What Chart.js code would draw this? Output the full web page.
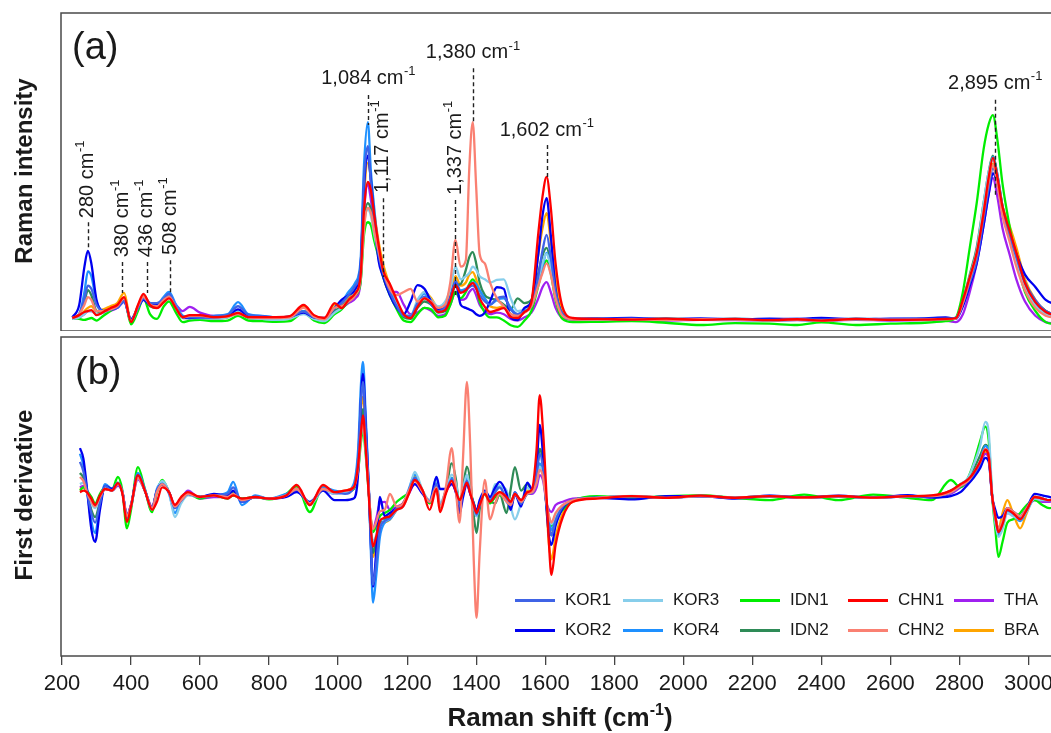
<!DOCTYPE html>
<html>
<head>
<meta charset="utf-8">
<script src="https://cdn.jsdelivr.net/npm/chart.js@4.4.1/dist/chart.umd.min.js"></script>
<style>
  html, body { margin: 0; padding: 0; background: #fff; }
  #wrap { position: relative; width: 1051px; height: 733px; overflow: hidden; font-family: "Liberation Sans", Arial, Helvetica, sans-serif; color: #1a1a1a; }
  canvas { position: absolute; left: 0; }
  #chartA { top: 0; }
  #chartB { top: 336px; }
  .ylab { position: absolute; left: 24px; font-weight: bold; font-size: 24px; line-height: 1; white-space: nowrap; transform: translate(-50%, -50%) rotate(-90deg); }
  #ylabA { top: 171px; }
  #ylabB { top: 495px; }
  .tag { position: absolute; font-size: 38px; line-height: 1; }
  #tagA { left: 72px; top: 27px; }
  #tagB { left: 75px; top: 352px; }
  #xlab { position: absolute; left: 0; width: 1120px; top: 704px; text-align: center; font-weight: bold; font-size: 26px; line-height: 1; white-space: nowrap; }
  #xlab sup { font-size: 16px; line-height: 0; vertical-align: 11px; }
  .lg-line { position: absolute; height: 3px; width: 40px; }
  .lg-text { position: absolute; font-size: 17px; line-height: 20px; white-space: nowrap; }
</style>
</head>
<body>
<div id="wrap">
  <canvas id="chartA" width="1132" height="331"></canvas>
  <canvas id="chartB" width="1132" height="397"></canvas>
  <div class="ylab" id="ylabA">Raman intensity</div>
  <div class="ylab" id="ylabB">First derivative</div>
  <div class="tag" id="tagA">(a)</div>
  <div class="tag" id="tagB">(b)</div>
  <div id="xlab">Raman shift (cm<sup>-1</sup>)</div>
  <div id="legend"></div>
</div>
<script>
// ---- data ----
const seriesNames = ['KOR1', 'KOR2', 'KOR3', 'KOR4', 'IDN1', 'IDN2', 'CHN1', 'CHN2', 'THA', 'BRA'];
const seriesColors = ['#3f63e6', '#0000f0', '#87ceeb', '#1e90ff', '#00ee00', '#2e8b57', '#ff0000', '#fa8072', '#a020f0', '#ffa500'];
const xTicks = [200, 400, 600, 800, 1000, 1200, 1400, 1600, 1800, 2000, 2200, 2400, 2600, 2800, 3000];

// (a) Raman spectra
const shiftA = [
  230, 250, 265, 275, 285, 300, 320, 340, 360, 380,
  400, 420, 436, 455, 475, 495, 510, 530, 550, 570,
  600, 640, 680, 710, 740, 780, 820, 860, 900, 930,
  960, 990, 1010, 1030, 1050, 1065, 1075, 1086, 1095, 1105,
  1117, 1130, 1150, 1170, 1190, 1210, 1230, 1250, 1270, 1290,
  1310, 1325, 1340, 1355, 1370, 1380, 1390, 1400, 1410, 1425,
  1440, 1460, 1480, 1500, 1520, 1540, 1560, 1580, 1592, 1604,
  1616, 1630, 1650, 1680, 1750, 1850, 1950, 2050, 2150, 2250,
  2330, 2400, 2500, 2600, 2700, 2760, 2790, 2810, 2830, 2850,
  2870, 2885, 2897, 2910, 2925, 2945, 2965, 2990, 3020, 3050,
  3080
];
const KOR1_A = [
  3.8, 5.0, 10.0, 14.0, 13.0, 8.0, 6.0, 6.5, 7.0, 9.0,
  3.0, 7.0, 10.0, 8.5, 8.5, 10.0, 11.5, 7.5, 4.2, 4.0,
  4.2, 4.4, 4.8, 7.5, 4.8, 4.4, 4.0, 4.2, 5.8, 4.0,
  3.6, 7.0, 8.5, 11.0, 14.0, 20.0, 48.0, 58.0, 46.0, 34.0,
  24.0, 18.0, 12.0, 7.5, 4.5, 4.5, 8.5, 10.5, 8.0, 6.0,
  7.0, 10.0, 15.5, 12.0, 12.5, 13.5, 14.0, 13.0, 11.0, 9.0,
  8.0, 10.0, 10.5, 6.5, 5.0, 6.0, 7.5, 17.0, 25.0, 30.0,
  23.0, 12.0, 5.0, 3.5, 3.5, 3.6, 3.4, 3.5, 3.4, 3.2,
  3.4, 3.3, 3.5, 3.4, 3.5, 3.6, 3.8, 8.5, 15.0, 22.0,
  35.0, 45.0, 51.0, 47.0, 38.0, 30.0, 23.0, 15.0, 9.5, 6.0,
  4.8
];
const KOR2_A = [
  4.0, 8.0, 20.0, 25.0, 21.0, 9.5, 6.0, 6.5, 7.0, 9.0,
  3.5, 7.0, 9.5, 8.0, 8.0, 9.5, 10.5, 7.0, 4.0, 3.8,
  4.0, 4.0, 4.5, 6.5, 4.5, 4.2, 4.0, 4.2, 5.5, 4.0,
  3.8, 7.0, 9.5, 11.0, 13.0, 20.0, 45.0, 55.0, 47.0, 35.0,
  22.0, 17.0, 11.0, 7.0, 5.0, 9.0, 14.2, 13.0, 9.0, 6.5,
  7.5, 10.0, 15.0, 8.0, 7.0, 6.5, 6.0, 5.0, 4.5, 5.5,
  9.0, 13.5, 13.0, 4.0, 3.2, 7.0, 9.0, 24.0, 36.0, 41.6,
  30.0, 13.0, 5.0, 3.5, 3.6, 3.8, 3.4, 3.7, 3.3, 3.6,
  3.5, 3.8, 3.4, 3.6, 3.7, 4.0, 3.5, 7.5, 14.0, 21.0,
  33.0, 43.0, 49.5, 46.0, 38.0, 31.0, 24.0, 17.5, 13.6, 9.5,
  8.0
];
const KOR3_A = [
  3.5, 4.0, 5.0, 6.0, 6.0, 5.0, 5.5, 6.5, 7.5, 9.5,
  2.8, 7.0, 10.0, 8.0, 7.5, 10.0, 11.0, 7.5, 4.0, 3.8,
  3.8, 3.6, 4.0, 6.0, 4.0, 3.5, 3.2, 3.6, 5.0, 3.5,
  2.8, 5.5, 7.0, 9.5, 12.0, 17.0, 33.0, 38.0, 36.0, 30.0,
  24.0, 18.0, 12.0, 8.0, 5.0, 4.5, 9.5, 12.0, 9.5, 7.5,
  9.0, 13.0, 20.0, 16.0, 17.0, 18.0, 20.0, 19.0, 17.0, 16.0,
  15.0, 15.8, 16.0, 10.0, 6.0, 6.5, 8.0, 16.0, 21.0, 24.0,
  20.0, 11.0, 5.0, 3.5, 3.3, 3.5, 3.2, 3.4, 3.2, 3.0,
  3.2, 3.0, 3.3, 3.2, 3.3, 3.5, 3.8, 9.0, 17.0, 25.0,
  40.0, 50.0, 54.0, 48.0, 38.0, 29.0, 21.0, 13.0, 7.5, 5.0,
  4.0
];
const KOR4_A = [
  3.8, 5.0, 12.0, 18.5, 17.0, 9.0, 6.0, 6.5, 7.5, 9.5,
  3.0, 7.5, 10.5, 8.5, 8.0, 10.5, 12.0, 8.0, 4.5, 4.0,
  4.2, 4.5, 5.0, 8.8, 5.0, 4.5, 4.0, 4.0, 6.0, 4.2,
  3.5, 7.0, 9.0, 12.0, 15.0, 22.0, 52.0, 65.6, 50.0, 38.0,
  26.0, 19.0, 12.5, 8.0, 4.5, 4.0, 9.0, 11.5, 8.0, 6.0,
  7.0, 10.5, 15.0, 12.5, 13.0, 14.0, 15.0, 14.5, 12.5, 10.0,
  8.0, 9.5, 10.0, 7.0, 5.0, 6.0, 7.5, 15.0, 20.0, 24.3,
  20.0, 11.0, 5.0, 3.5, 3.6, 3.4, 3.7, 3.3, 3.6, 3.3,
  3.5, 3.2, 3.6, 3.4, 3.5, 3.6, 3.8, 9.0, 16.0, 23.5,
  38.0, 49.0, 54.6, 49.0, 39.0, 30.0, 22.0, 14.0, 8.5, 5.5,
  4.3
];
const IDN1_A = [
  3.8, 3.5, 3.2, 3.5, 3.8, 3.0, 4.5, 6.0, 7.5, 10.0,
  1.8, 6.0, 10.0, 5.0, 3.5, 7.5, 9.0, 5.5, 2.5, 3.0,
  3.2, 2.8, 3.0, 4.5, 3.0, 2.8, 2.6, 2.8, 5.5, 3.0,
  2.2, 5.0, 6.5, 9.0, 11.0, 15.0, 30.0, 34.0, 33.0, 28.0,
  23.0, 17.0, 11.0, 6.5, 3.0, 2.5, 5.0, 7.0, 6.5, 4.0,
  4.5, 8.0, 12.0, 10.0, 12.0, 14.5, 16.0, 14.0, 9.0, 5.5,
  4.0, 4.0, 3.0, 1.5, 1.0, 3.0, 6.0, 14.0, 19.0, 22.0,
  18.0, 9.5, 3.5, 2.5, 2.6, 2.8, 2.3, 1.6, 2.2, 2.0,
  1.6, 2.4, 1.6, 2.0, 2.3, 2.8, 4.0, 12.0, 26.0, 40.0,
  57.0, 65.0, 67.8, 60.0, 46.0, 33.0, 22.0, 12.0, 6.0, 2.5,
  1.8
];
const IDN2_A = [
  3.6, 5.0, 9.0, 12.6, 11.0, 6.0, 5.5, 6.5, 7.5, 9.5,
  2.8, 7.0, 10.0, 7.5, 7.0, 9.5, 10.5, 7.0, 3.8, 3.8,
  3.8, 3.6, 4.0, 5.5, 3.8, 3.6, 3.4, 3.6, 6.0, 3.6,
  3.0, 6.0, 7.5, 9.5, 12.0, 17.0, 34.0, 40.0, 38.0, 31.0,
  25.0, 18.0, 12.0, 7.5, 4.0, 3.5, 7.0, 9.0, 8.0, 5.5,
  6.0, 9.5, 14.0, 14.5, 19.0, 23.0, 24.6, 21.0, 15.0, 11.0,
  10.0, 9.5, 8.0, 6.5, 10.0, 8.5, 9.5, 18.0, 23.5, 25.9,
  21.0, 11.5, 5.0, 3.4, 3.4, 3.3, 3.5, 3.2, 3.3, 3.1,
  3.2, 3.1, 3.3, 3.2, 3.3, 3.5, 3.8, 9.5, 17.5, 26.0,
  40.0, 50.0, 55.0, 49.0, 39.0, 31.0, 23.0, 15.0, 9.0, 6.0,
  4.5
];
const CHN1_A = [
  3.8, 4.7, 5.7, 6.0, 6.3, 4.7, 5.7, 6.9, 7.9, 10.4,
  2.5, 7.9, 11.4, 7.9, 6.9, 8.8, 10.0, 6.9, 4.1, 4.7,
  4.7, 4.1, 4.4, 5.4, 4.1, 4.1, 4.1, 4.4, 7.9, 4.7,
  3.8, 8.5, 6.9, 9.5, 11.7, 17.0, 38.0, 46.7, 44.0, 36.0,
  27.0, 19.0, 14.5, 9.5, 5.0, 3.8, 7.3, 10.0, 8.5, 5.7,
  6.3, 9.5, 14.2, 11.7, 12.6, 14.0, 14.8, 13.2, 10.0, 7.3,
  5.7, 6.3, 6.9, 4.1, 3.8, 5.7, 8.8, 30.6, 42.0, 48.3,
  38.8, 21.0, 7.3, 3.8, 3.5, 3.3, 3.6, 3.2, 3.5, 3.1,
  3.4, 3.0, 3.5, 3.2, 3.3, 3.5, 3.8, 9.5, 16.7, 24.3,
  36.9, 48.3, 54.3, 48.3, 38.8, 31.5, 24.3, 14.8, 8.8, 5.7,
  4.5
];
const CHN2_A = [
  3.8, 5.0, 8.0, 10.4, 9.5, 6.0, 6.0, 6.5, 7.5, 10.0,
  2.8, 7.5, 10.5, 8.0, 7.5, 9.5, 10.5, 7.0, 4.0, 4.5,
  4.5, 4.0, 4.2, 5.0, 4.0, 3.8, 3.8, 4.0, 7.0, 4.2,
  3.4, 7.0, 7.5, 9.0, 11.0, 16.0, 32.0, 38.5, 37.0, 31.0,
  25.0, 19.0, 13.0, 11.0, 12.0, 13.0, 9.0, 10.0, 9.0, 7.0,
  8.0, 15.0, 28.4, 20.0, 22.0, 51.0, 65.6, 45.0, 24.0, 21.0,
  15.0, 10.0, 7.5, 5.0, 4.5, 5.5, 7.5, 14.0, 18.0, 21.0,
  17.5, 10.0, 4.5, 3.4, 3.3, 3.4, 3.2, 3.4, 3.3, 3.1,
  3.3, 3.0, 3.4, 3.2, 3.3, 3.4, 3.6, 8.5, 16.0, 24.0,
  37.0, 47.0, 52.0, 46.0, 36.0, 28.0, 20.0, 12.5, 7.0, 4.5,
  3.8
];
const THA_A = [
  3.5, 4.0, 5.0, 6.0, 6.0, 5.0, 5.5, 6.0, 7.0, 9.0,
  2.8, 7.0, 9.5, 8.0, 7.5, 10.0, 10.5, 8.0, 6.0, 7.3,
  5.5, 4.5, 4.5, 5.0, 4.2, 4.0, 3.8, 4.0, 6.0, 4.0,
  3.2, 6.0, 7.0, 8.5, 10.0, 15.0, 37.0, 46.0, 41.0, 32.0,
  24.0, 17.0, 12.0, 12.0, 8.0, 5.0, 5.5, 7.0, 6.0, 4.5,
  5.0, 8.0, 12.0, 9.5, 10.0, 12.0, 13.0, 11.0, 8.0, 6.0,
  5.0, 5.5, 5.0, 3.5, 3.0, 4.0, 5.5, 10.0, 13.5, 15.1,
  12.0, 7.0, 3.8, 3.3, 3.2, 3.3, 3.0, 3.2, 3.1, 3.0,
  3.1, 2.9, 3.2, 3.0, 3.1, 3.0, 2.5, 5.0, 12.0, 21.0,
  33.0, 43.0, 48.0, 42.0, 32.0, 24.0, 16.0, 9.0, 4.5, 2.5,
  2.0
];
const BRA_A = [
  3.6, 4.5, 6.0, 7.0, 7.5, 6.0, 6.5, 7.5, 8.5, 11.7,
  2.8, 7.5, 11.0, 8.0, 7.0, 9.0, 10.5, 7.0, 4.2, 4.5,
  4.5, 4.2, 4.4, 5.2, 4.2, 4.0, 4.0, 4.2, 7.5, 4.5,
  3.6, 8.0, 8.0, 10.0, 12.5, 18.0, 42.0, 52.7, 48.0, 37.0,
  28.0, 21.0, 14.0, 8.5, 4.5, 4.0, 8.5, 12.0, 10.0, 7.0,
  7.5, 11.0, 17.0, 14.0, 15.0, 17.5, 18.3, 16.0, 12.5, 10.0,
  7.5, 7.0, 7.5, 5.0, 4.5, 6.0, 9.0, 24.0, 32.0, 36.9,
  28.0, 16.0, 6.0, 3.6, 3.5, 3.4, 3.6, 3.4, 3.5, 3.3,
  3.4, 3.2, 3.5, 3.3, 3.4, 3.5, 3.8, 9.0, 16.0, 24.0,
  37.0, 47.0, 52.5, 47.5, 39.0, 33.0, 26.0, 16.0, 9.5, 6.0,
  4.8
];

// (b) first derivative
const shiftB = [
  252, 262, 272, 285, 296, 310, 325, 345, 362, 375,
  388, 400, 420, 440, 461, 475, 490, 510, 527, 545,
  565, 600, 640, 680, 696, 721, 760, 800, 850, 880,
  918, 956, 990, 1020, 1045, 1058, 1066, 1072, 1080, 1089,
  1095, 1101, 1110, 1121, 1135, 1150, 1170, 1188, 1205, 1222,
  1245, 1265, 1285, 1295, 1312, 1329, 1342, 1352, 1362, 1373,
  1383, 1393, 1401, 1410, 1425, 1440, 1455, 1468, 1488, 1500,
  1512, 1530, 1548, 1562, 1575, 1584, 1594, 1604, 1611, 1618,
  1630, 1651, 1680, 1750, 1850, 1950, 2050, 2150, 2250, 2350,
  2450, 2550, 2650, 2720, 2775, 2803, 2825, 2841, 2860, 2875,
  2885, 2895, 2904, 2913, 2925, 2939, 2955, 2976, 2995, 3018,
  3040, 3060, 3080
];
const KOR1_B = [
  22, 16, 4, -10, -16, -4, 7, 4, 8, 3,
  -12, -5, 14, 4, -7, 4, 8, 3, -7, -2,
  2, 0, 1, 2, 6, -3, 0, -1, 1, 5,
  -4, 5, 3, 2, 6, 25, 60, 72, 42, 4,
  -30, -55, -42, -20, -15, -13, -7, -5, 4, 12,
  3, -3, 8, -6, 3, 11, 4, -5, 3, 10,
  3, -5, -11, -5, 3, -2, 3, 6, -2, -5,
  3, -4, 2, 3, 14, 27, 17, -6, -18, -24,
  -15, -6, -2, -0.4, 0.4, -0.5, 0.6, -0.5, 0.5, -0.4,
  0.5, -0.5, 0.4, 0.5, 3, 7, 10, 14, 21, 30,
  26, 0, -13, -22, -16, -8, -10, -13, -8, 0,
  -1, -2, -1
];
const KOR2_B = [
  30.6, 24, 6, -20, -28, -8, 7, 5, 8, 3,
  -12, -5, 13, 4, -7, 4, 8, 3, -6, -2,
  2, 0, 2, 1, 4, -3, 0, -1, 0, 3,
  -3, 4, -2, -2, -1, 15, 60, 77, 45, 5,
  -30, -56, -35, 0, -12, -10, -7, -4, 3, 8,
  2, -3, 12.5, 5, 5, 8, 2, -10, 0, 8,
  2, -4, -9, -2, 4, 0, 6, 9.4, 2, -8,
  2, -6, 9, 5, 20, 45, 25, -8, -25, -30,
  -18, -7, -2, -0.5, -1.5, 0.5, 0.5, -1, 0.8, -0.5,
  0.8, -0.6, 1.2, -0.4, 0.5, 3, 8, 12, 18, 24.4,
  22, 0, -8, -13, -12, -7, -9, -12, -7, 2,
  1, 0, -1
];
const KOR3_B = [
  8, 9, 4, -4, -7, 0, 6, 4, 8, 3,
  -12, -6, 12, 4, -8, 4, 10, 3, -12.5, -4,
  1, 0, 1, 0, 2, -2, 0, -1, 1, 5,
  -5, 4, 2, 3, 6, 18, 38, 45, 28, 3,
  -18, -28, -24, -14, -15, -13, -8, -6, 3, 15.6,
  4, -2, 12.5, -4, 4, 14, 8, -5, 5, 14,
  4, -5, -12, -4, 4, -2, 8, 7, 4, -6,
  -14, -4, 6, 3, 10, 19, 14, -4, -13, -17,
  -11, -5, -2, -0.5, 0.6, -0.6, 0.5, -0.5, 0.6, -0.6,
  0.5, -0.5, 0.5, 0.6, 3, 8, 12, 20, 32, 47,
  40, 2, -16, -25, -20, -10, -12, -14, -9, -1,
  -2, -2, -1
];
const KOR4_B = [
  27, 20, 5, -15, -22.5, -5, 8, 5, 9, 3,
  -13, -6, 15, 5, -8, 5, 9, 2, -10, -3,
  2, 0, 1, 3, 9.4, -5, 1, -1, 2, 5,
  -4, 6, 4, 3, 8, 30, 70, 84.4, 50, 5,
  -35, -66, -50, -25, -16, -14, -8, -5, 5, 14,
  3, -3, 9, -6, 4, 12, 5, -6, 4, 12,
  3, -6, -12, -5, 3, -2, 4, 7, -3, -6,
  3, -4, 2, 3, 12, 21, 14, -5, -15, -20.6,
  -14, -6, -2, -0.5, 0.5, -0.6, 0.7, -0.4, 0.6, -0.5,
  0.4, -0.6, 0.4, 0.6, 3, 7, 10, 15, 22, 32,
  28, 0, -14, -24, -17, -9, -11, -15, -9, -1,
  -1.5, -2, -1
];
const IDN1_B = [
  4, 6, 4, 0, -4, 2, 6, 5, 12.5, 4,
  -19.6, -8, 18.7, 5, -9.5, 3, 10.6, 3, -6, -1,
  2, -1, 1, -1, 1, -1, 0, -1.5, 2, 7,
  -9.4, 6, 3, 3, 5, 16, 34, 42, 26, 2,
  -14, -22, -18, -12, -10, -8, -3, 0, 3, 12,
  3, -4, 7, -6, 3, 12, 6, -3, 5, 10,
  3, -4, -9, -4, 2, -4, 0, 1, -2, -6,
  2, -3, 2, 3, 10, 20, 14, -4, -13, -18,
  -13, -8, -2.5, 0.5, -0.8, 0.5, 1, -0.5, -2, 1.5,
  -2, 1.5, -0.5, -2, 10.6, 6, 12, 21, 35, 44,
  35, 0, -20, -37.5, -28, -16, -14, -10, -5, -2,
  -5, -7, -6
];
const IDN2_B = [
  15, 12, 4, -8, -12.5, -3, 6, 4, 8, 3,
  -13, -6, 14, 4, -7, 4, 8, 3, -7, -2,
  2, 0, 1, 1, 3, -2, 0, -1, 1, 5,
  -5, 5, 3, 3, 6, 20, 45, 55, 32, 3,
  -20, -35, -28, -16, -14, -12, -7, -4, 3, 11,
  3, -3, 7, -6, 4, 21, 10, -8, 6, 19,
  10, -12, -22.5, -8, 3, -2, -4, 2, -10, 5,
  18.7, 4, 8, 4, 15, 30, 20, -6, -18, -24,
  -15, -7, -2, -0.5, 0.5, -0.5, 0.6, -0.4, 0.5, -0.5,
  0.5, -0.5, 0.5, 0.5, 4, 8, 11, 17, 26, 32.5,
  28, 0, -14, -24, -17, -8, -10, -14, -8, 0,
  -1, -2, -1
];
const CHN1_B = [
  3, 4, 3, -1, -5, 1, 5, 4, 8.7, 2,
  -15.6, -6, 13.7, 4, -8, -3, 6, 3, -5, 0,
  3, 0, 1, -1, 1, -1, 0, -1, 1, 7.5,
  -5, 7.5, 3, 4, 6, 20, 40, 51, 30, 0,
  -20, -31, -25, -15, -13, -12, -8, -6, 2, 10.6,
  4, -8, 5, -9.4, 2, 10, 3, -2, 3, 9,
  2, -5, -10, -5, 2, -3, 1, 3, 0, -3,
  2, -2, 3, 5, 30, 63.7, 40, 0, -30, -48.7,
  -30, -12.5, -3, -1, 0.5, -0.5, 0.8, -0.5, 0.5, -0.3,
  0.6, -0.4, 0.5, 1, 4, 8, 11, 15, 22, 29.4,
  25, 0, -12, -22, -17, -8, -10, -14, -8, 0,
  -1, -2, -1
];
const CHN2_B = [
  12.5, 10, 3, -3, -6, 0, 5, 4, 8, 3,
  -12, -5, 12, 4, -7, 3, 8, 3, -6, -2,
  2, 0, 1, 0, 2, -2, 0, -1, 1, 5,
  -4, 5, 3, 4, 6, 18, 38, 48, 30, 3,
  -14, -20, -16, -9, -8, 2, -6, -4, 4, 10,
  3, -3, 6, -6, 6, 30.6, 2, -16, 25, 72,
  30, -40, -75.6, -35, 10.6, -14, -4, 2, -3, -5,
  2, -3, 2, 3, 9, 17, 12, -4, -12, -16,
  -10, -5, -2, -0.5, 0.5, -0.5, 0.6, -0.4, 0.5, -0.5,
  0.5, -0.5, 0.5, 0.5, 3, 7, 10, 15, 22, 30,
  26, 0, -13, -20, -15, -7, -9, -12, -7, 0,
  -1, -2, -1
];
const THA_B = [
  6, 7, 3, -2, -5, 0, 5, 4, 7, 3,
  -11, -5, 11, 4, -6, 4, 8, 3, -5, -1,
  4, -1, 0, 0, 1, -1, 0, -1, 1, 4,
  -4, 4, 2, 3, 5, 16, 40, 50, 30, 3,
  -15, -20, -14, -4, -3, -8, -6, -4, 2, 8,
  2, -2, 5, -5, 3, 8, 3, -3, 3, 8,
  2, -5, -8, -4, 3, -3, 0, 2, -2, -4,
  1, -2, 2, 2, 6, 13.7, 10, -4, -8, -9.4,
  -5, -3, -1, -0.3, 0.3, -0.3, 0.3, -0.3, 0.3, -0.3,
  0.3, -0.3, 0.3, 0.3, 2, 6, 9, 14, 20, 27,
  24, 0, -12, -20, -16, -10, -10, -12, -7, -2,
  -3, -3, -2
];
const BRA_B = [
  5, 6, 4, -1, -5, 1, 6, 5, 9, 3,
  -13, -6, 13, 4, -7, 3, 8, 3, -6, -1,
  2, 0, 1, 0, 1, -1, 0, -1, 1, 6,
  -5, 6, 3, 4, 7, 25, 55, 62.5, 38, 3,
  -25, -37.5, -30, -18, -16, -14, -8, -5, 3, 13,
  4, -4, 6, -7, 3, 12, 4, -4, 4, 11,
  3, -5, -10, -5, 2, -3, 1, 3, 0, -3,
  2, -2, 4, 3, 15, 30, 22, -8, -30, -39,
  -25, -10, -3, -0.5, 0.5, -0.5, 0.8, -0.5, 0.5, -0.3,
  0.5, -0.5, 0.5, 0.8, 3, 7, 10, 15, 21, 28,
  25, 0, -12, -20, -10, -2, -10, -19.6, -10, 0,
  -1, -2, -1
];

// band labels of panel (a); positions in cm-1 / intensity units
const peakLabels = ['280', '380', '436', '508', '1,084', '1,117', '1,337', '1,380', '1,602', '2,895'];
const peakPos = [275, 374, 446, 513, 1087, 1129, 1340, 1390, 1604, 2903];
const peakVertical = [true, true, true, true, false, true, true, false, false, false];
const peakTextAt = [35.3, 23.0, 23.0, 23.7, 79.5, 43.2, 42.6, 87.4, 63.1, 77.9];
const dashTop = [34.0, 21.5, 21.5, 22.0, 74.1, 41.6, 41.0, 82.6, 58.4, 72.6];
const dashBottom = [25.2, 11.7, 11.7, 11.7, 64.7, 16.7, 10.4, 65.6, 48.3, 42.6];

const intensityA = [KOR1_A, KOR2_A, KOR3_A, KOR4_A, IDN1_A, IDN2_A, CHN1_A, CHN2_A, THA_A, BRA_A];
const derivativeB = [KOR1_B, KOR2_B, KOR3_B, KOR4_B, IDN1_B, IDN2_B, CHN1_B, CHN2_B, THA_B, BRA_B];

// ---- drawing ----
const FONT = '"Liberation Sans", Arial, Helvetica, sans-serif';
const X_MIN = 197.1, X_MAX = 3300;

function makeDatasets(xs, table) {
  return table.map((vals, i) => ({
    label: seriesNames[i],
    data: vals.map((v, k) => ({ x: xs[k], y: v })),
    borderColor: seriesColors[i],
    backgroundColor: seriesColors[i],
    borderWidth: 2.3,
    pointRadius: 0,
    cubicInterpolationMode: 'monotone',
    order: seriesNames[i] === 'CHN1' ? 0 : seriesNames[i] === 'CHN2' ? 1 : i + 2
  }));
}

const boxPlugin = {
  id: 'box',
  afterDraw(chart) {
    const { ctx, chartArea: a } = chart;
    ctx.save();
    ctx.strokeStyle = '#4a4a4a';
    ctx.lineWidth = 1.5;
    ctx.strokeRect(a.left, a.top, a.right - a.left, a.bottom - a.top);
    ctx.restore();
  }
};

const peakPlugin = {
  id: 'peaks',
  afterDatasetsDraw(chart) {
    const { ctx, scales: { x, y } } = chart;
    ctx.save();
    ctx.strokeStyle = '#222';
    ctx.lineWidth = 1.4;
    ctx.setLineDash([4, 3]);
    peakPos.forEach((p, i) => {
      const px = Math.round(x.getPixelForValue(p)) + 0.5;
      ctx.beginPath();
      ctx.moveTo(px, y.getPixelForValue(dashTop[i]));
      ctx.lineTo(px, y.getPixelForValue(dashBottom[i]));
      ctx.stroke();
    });
    ctx.setLineDash([]);
    ctx.fillStyle = '#1a1a1a';
    ctx.textBaseline = 'middle';
    ctx.textAlign = 'left';
    const main = '20px ' + FONT, sup = '13px ' + FONT;
    peakLabels.forEach((t, i) => {
      const px = x.getPixelForValue(peakPos[i]);
      const py = y.getPixelForValue(peakTextAt[i]);
      ctx.save();
      ctx.translate(px, py);
      if (peakVertical[i]) ctx.rotate(-Math.PI / 2);
      ctx.font = main;
      const w1 = ctx.measureText(t + ' cm').width;
      ctx.font = sup;
      const w2 = ctx.measureText('-1').width;
      const x0 = peakVertical[i] ? 0 : -(w1 + w2) / 2;
      ctx.font = main;
      ctx.fillText(t + ' cm', x0, 0);
      ctx.font = sup;
      ctx.fillText('-1', x0 + w1 + 0.5, -7);
      ctx.restore();
    });
    ctx.restore();
  }
};

const common = {
  responsive: false,
  animation: false,
  events: [],
  plugins: { legend: { display: false }, tooltip: { enabled: false } }
};

new Chart(document.getElementById('chartA'), {
  type: 'line',
  data: { datasets: makeDatasets(shiftA, intensityA) },
  options: Object.assign({}, common, {
    layout: { padding: { left: 61, top: 13, right: 0, bottom: 0 } },
    scales: {
      x: { type: 'linear', min: X_MIN, max: X_MAX, display: false },
      y: { type: 'linear', min: -0.3, max: 100, display: false }
    }
  }),
  plugins: [peakPlugin, boxPlugin]
});

new Chart(document.getElementById('chartB'), {
  type: 'line',
  data: { datasets: makeDatasets(shiftB, derivativeB) },
  options: Object.assign({}, common, {
    layout: { padding: { left: 61, top: 1, right: 0, bottom: 0 } },
    scales: {
      x: {
        type: 'linear', min: X_MIN, max: X_MAX,
        afterBuildTicks: s => { s.ticks = xTicks.map(v => ({ value: v })); },
        afterFit: s => { s.height = 77; },
        ticks: { color: '#1a1a1a', font: { family: FONT, size: 22 }, padding: 6, maxRotation: 0, autoSkip: false, callback: v => String(v) },
        grid: { drawOnChartArea: false, drawTicks: true, tickLength: 9, color: '#444', lineWidth: 1.3 },
        border: { display: false }
      },
      y: { type: 'linear', min: -99.4, max: 100, display: false }
    }
  }),
  plugins: [boxPlugin]
});

// legend (R-style, filled by column)
const legend = document.getElementById('legend');
const colX = [515, 623, 740, 848, 954];
const rowY = [600, 630];
seriesNames.forEach((name, i) => {
  const cx = colX[Math.floor(i / 2)], cy = rowY[i % 2];
  const line = document.createElement('div');
  line.className = 'lg-line';
  line.style.left = cx + 'px';
  line.style.top = (cy - 1.5) + 'px';
  line.style.background = seriesColors[i];
  legend.appendChild(line);
  const txt = document.createElement('div');
  txt.className = 'lg-text';
  txt.style.left = (cx + 50) + 'px';
  txt.style.top = (cy - 10) + 'px';
  txt.textContent = name;
  legend.appendChild(txt);
});
</script>
</body>
</html>
